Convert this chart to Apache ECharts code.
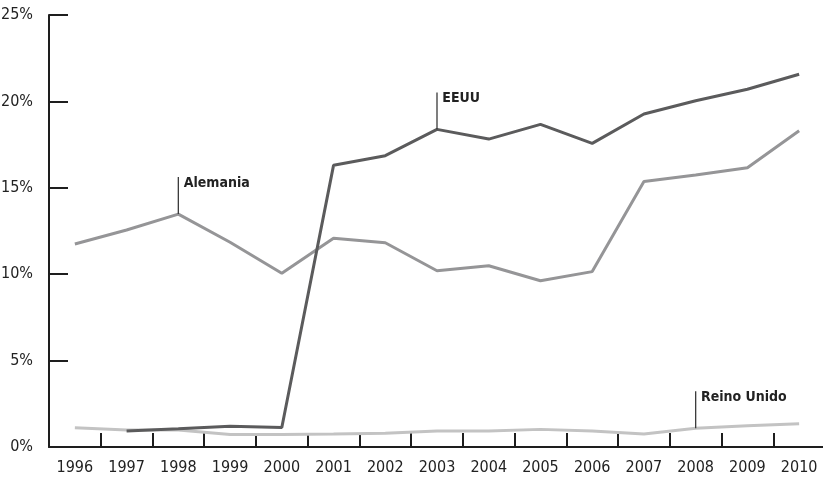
<!DOCTYPE html>
<html>
<head>
<meta charset="utf-8">
<script src="https://cdn.jsdelivr.net/npm/echarts@6/dist/echarts.min.js"></script>
<style>
html,body{margin:0;padding:0;background:#fff;}
#chart{width:823px;height:483px;}
</style>
</head>
<body>
<div id="chart"></div>
<script>
const years = ['1996','1997','1998','1999','2000','2001','2002','2003','2004','2005','2006','2007','2008','2009','2010'];
const eeuu = [null, 0.93, 1.05, 1.2, 1.13, 16.3, 16.86, 18.38, 17.82, 18.67, 17.57, 19.27, 20.04, 20.7, 21.57];
const alemania = [11.75, 12.56, 13.48, 11.85, 10.05, 12.08, 11.82, 10.2, 10.49, 9.62, 10.15, 15.36, 15.74, 16.16, 18.3];
const reinoUnido = [1.12, 0.98, 0.98, 0.73, 0.73, 0.75, 0.79, 0.93, 0.93, 1.02, 0.93, 0.75, 1.08, 1.23, 1.35];
const yTicks = [0, 5, 10, 15, 20, 25];

const FONT = '"DejaVu Sans Condensed", "DejaVu Sans", sans-serif';

function annot(name, idx, values) {
  return {
    symbol: 'rect',
    symbolSize: [1.3, 37],
    symbolOffset: [0, '-50%'],
    itemStyle: { color: '#3a3a3a' },
    label: {
      show: true,
      position: [6, -1],
      align: 'left',
      verticalAlign: 'top',
      formatter: name,
      fontFamily: FONT,
      fontWeight: 'bold condensed',
      fontSize: 14,
      color: '#222'
    },
    data: [{ coord: [years[idx], values[idx]] }],
    animation: false
  };
}

const chart = echarts.init(document.getElementById('chart'), null, { renderer: 'canvas' });
chart.setOption({
  animation: false,
  backgroundColor: '#fff',
  grid: { left: 49, top: 15, width: 776, bottom: 36, containLabel: false, outerBoundsMode: 'none' },
  xAxis: {
    type: 'category',
    data: years,
    boundaryGap: true,
    axisLine: { show: true, lineStyle: { color: '#1e1e1e', width: 2 } },
    axisTick: { show: true, interval: 0, inside: true, length: 14, lineStyle: { color: '#1e1e1e', width: 2 } },
    axisLabel: { interval: 0, fontFamily: FONT, fontWeight: 'condensed', fontSize: 16, color: '#222', margin: 13 },
    splitLine: { show: false }
  },
  yAxis: {
    type: 'value',
    min: yTicks[0],
    max: yTicks[yTicks.length - 1],
    interval: 5,
    axisLine: { show: true, lineStyle: { color: '#1e1e1e', width: 2 } },
    axisTick: { show: true, inside: true, length: 19, lineStyle: { color: '#1e1e1e', width: 2 } },
    axisLabel: { fontFamily: FONT, fontWeight: 'condensed', fontSize: 16, color: '#222', margin: 16, formatter: '{value}%' },
    splitLine: { show: false }
  },
  series: [
    {
      name: 'Reino Unido', type: 'line', data: reinoUnido, symbol: 'none',
      lineStyle: { color: '#c3c3c3', width: 3 }, itemStyle: { color: '#c3c3c3' },
      markPoint: annot('Reino Unido', 12, reinoUnido), z: 2
    },
    {
      name: 'Alemania', type: 'line', data: alemania, symbol: 'none',
      lineStyle: { color: '#959597', width: 3 }, itemStyle: { color: '#959597' },
      markPoint: annot('Alemania', 2, alemania), z: 3
    },
    {
      name: 'EEUU', type: 'line', data: eeuu, symbol: 'none',
      lineStyle: { color: '#5b5b5c', width: 3 }, itemStyle: { color: '#5b5b5c' },
      markPoint: annot('EEUU', 7, eeuu), z: 4
    }
  ]
});
</script>
</body>
</html>
